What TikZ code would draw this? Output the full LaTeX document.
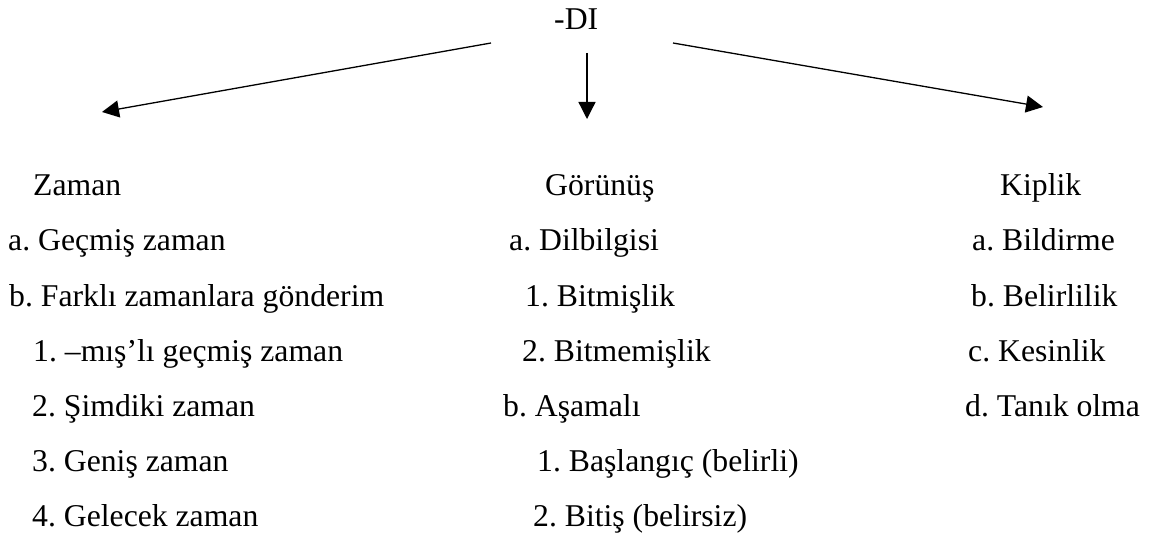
\documentclass[tikz,border=0pt]{standalone}
\usepackage{fontspec}
\setmainfont{Liberation Serif}
\usetikzlibrary{arrows.meta}
\frenchspacing
\begin{document}
\begin{tikzpicture}[x=1pt,y=-1pt,
  lbl/.style={anchor=base west,inner sep=0pt,font=\fontsize{31.7}{38}\selectfont},
  conn/.style={line width=1.3pt,-{Triangle[length=17pt,width=17pt]}}]
\useasboundingbox (0,0) rectangle (1156,537);
\node[lbl] (di) at (554,30) {-DI};
% column Zaman
\node[lbl] (zaman) at (33,196) {Zaman};
\node[lbl] (z1) at (8,251) {a. Geçmiş zaman};
\node[lbl] (z2) at (9,306) {b. Farklı zamanlara gönderim};
\node[lbl] (z3) at (33,361) {1. –mış’lı geçmiş zaman};
\node[lbl] (z4) at (32,416) {2. Şimdiki zaman};
\node[lbl] (z5) at (32,471) {3. Geniş zaman};
\node[lbl] (z6) at (32,526) {4. Gelecek zaman};
% column Gorunus
\node[lbl] (gor) at (545,196) {Görünüş};
\node[lbl] (g1) at (509,251) {a. Dilbilgisi};
\node[lbl] (g2) at (525,306) {1. Bitmişlik};
\node[lbl] (g3) at (522,361) {2. Bitmemişlik};
\node[lbl] (g4) at (503,416) {b. Aşamalı};
\node[lbl] (g5) at (537,471) {1. Başlangıç (belirli)};
\node[lbl] (g6) at (533,526) {2. Bitiş (belirsiz)};
% column Kiplik
\node[lbl] (kip) at (1000,196) {Kiplik};
\node[lbl] (k1) at (972,251) {a. Bildirme};
\node[lbl] (k2) at (971,306) {b. Belirlilik};
\node[lbl] (k3) at (968,361) {c. Kesinlik};
\node[lbl] (k4) at (965,416) {d. Tanık olma};
% arrows
\coordinate (sL) at (491,43);
\coordinate (eL) at (102,112);
\coordinate (sM) at (587,53);
\coordinate (eM) at (587,119);
\coordinate (sR) at (673,43);
\coordinate (eR) at (1043,107);
\draw[conn] (sL) -- (eL);
\draw[conn] (sM) -- (eM);
\draw[conn] (sR) -- (eR);
\end{tikzpicture}
\end{document}
